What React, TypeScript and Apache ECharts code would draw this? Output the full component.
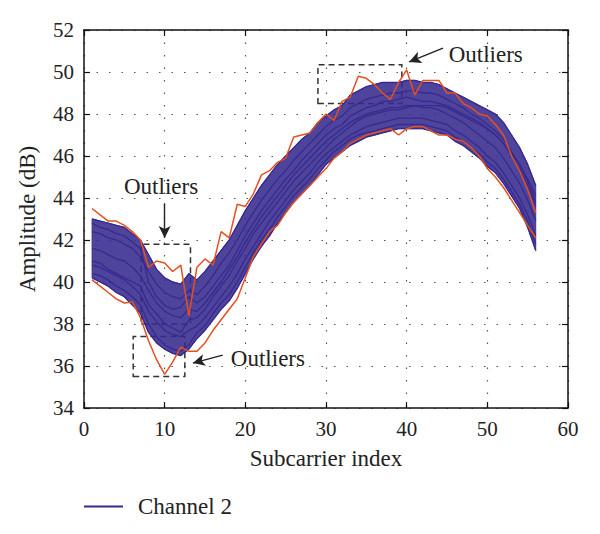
import React, { useEffect, useRef } from 'react';
import * as echarts from 'echarts';

const subcarriers = [1,2,3,4,5,6,7,8,9,10,11,12,13,14,15,16,17,18,19,20,21,22,23,24,25,26,27,28,29,30,31,32,33,34,35,36,37,38,39,40,41,42,43,44,45,46,47,48,49,50,51,52,53,54,55,56];

const xTicks = [0, 10, 20, 30, 40, 50, 60];
const yTicks = [34, 36, 38, 40, 42, 44, 46, 48, 50, 52];

// Upper and lower edges of the Channel 2 bundle
const blueHi = [43.0,42.9,42.8,42.7,42.6,42.3,42.0,41.3,40.6,40.2,40.0,39.9,40.4,40.1,40.5,41.0,41.5,42.0,42.7,43.4,44.0,44.6,45.1,45.6,46.0,46.4,46.8,47.1,47.6,47.9,48.2,48.4,48.9,49.1,49.3,49.4,49.5,49.5,49.5,49.6,49.6,49.5,49.5,49.4,49.2,49.0,48.8,48.6,48.4,48.2,48.0,47.6,47.0,46.4,45.6,44.6];
const blueLo = [40.2,40.0,39.8,39.5,39.3,38.9,38.5,37.6,37.1,36.8,36.6,36.5,36.8,37.3,37.7,38.2,38.7,39.1,39.7,40.4,41.1,41.7,42.2,42.8,43.3,43.8,44.2,44.6,45.1,45.6,45.9,46.2,46.5,46.7,46.9,47.0,47.1,47.2,47.3,47.3,47.3,47.3,47.2,47.1,47.0,46.7,46.5,46.2,45.9,45.5,45.2,44.7,44.1,43.5,42.6,41.5];

// Individual Channel 2 measurements inside the bundle
const blueA = [42.4,42.3,42.1,42.0,41.8,41.6,41.2,40.5,39.9,39.5,39.3,39.2,39.6,39.4,39.8,40.3,40.9,41.4,42.0,42.7,43.3,43.9,44.4,44.9,45.3,45.8,46.2,46.6,47.0,47.4,47.7,47.9,48.3,48.5,48.7,48.8,48.9,49.0,49.0,49.1,49.1,49.0,49.0,48.9,48.7,48.5,48.3,48.0,47.8,47.5,47.2,46.8,46.2,45.6,44.8,43.8];
const blueB = [41.6,41.5,41.3,41.1,41.0,40.7,40.3,39.6,39.0,38.6,38.4,38.3,38.7,38.6,39.0,39.5,40.0,40.6,41.2,41.9,42.5,43.1,43.6,44.1,44.6,45.1,45.5,45.9,46.3,46.7,47.0,47.3,47.6,47.8,48.0,48.1,48.2,48.3,48.3,48.4,48.4,48.3,48.3,48.2,48.0,47.8,47.6,47.3,47.0,46.7,46.4,45.9,45.3,44.7,43.9,42.9];
const blueC = [40.8,40.7,40.5,40.3,40.1,39.8,39.4,38.6,38.1,37.7,37.5,37.4,37.7,37.9,38.3,38.8,39.3,39.8,40.4,41.1,41.7,42.3,42.9,43.4,43.9,44.4,44.8,45.2,45.7,46.1,46.4,46.7,47.0,47.2,47.4,47.5,47.6,47.7,47.8,47.8,47.8,47.8,47.7,47.6,47.5,47.2,47.0,46.7,46.4,46.0,45.7,45.2,44.6,44.0,43.2,42.2];
const blueD = [42.8,42.6,42.5,42.3,42.2,41.9,41.6,40.0,39.3,38.9,38.7,38.8,39.3,39.0,39.3,39.8,40.3,40.8,41.5,42.2,42.8,43.4,43.9,44.4,44.9,45.3,45.8,46.2,46.6,47.0,47.3,47.5,47.9,48.1,48.3,48.4,48.6,48.6,48.7,48.8,48.7,48.6,48.6,48.5,48.4,48.2,48.0,47.8,47.6,47.3,47.0,46.6,46.0,45.4,44.6,43.6];
const blueE = [41.0,40.9,40.6,40.4,40.2,40.0,39.8,38.9,38.5,38.0,37.8,37.6,38.2,38.3,38.7,39.3,39.8,40.3,41.0,41.6,42.3,42.8,43.3,43.8,44.3,44.8,45.2,45.6,46.0,46.4,46.8,47.1,47.4,47.7,47.9,48.0,48.1,48.2,48.2,48.3,48.4,48.4,48.4,48.4,48.3,48.1,47.9,47.7,47.5,47.3,47.0,46.6,46.1,45.6,44.9,44.1];
const blueF = [40.4,40.3,40.1,39.8,39.6,39.3,38.9,38.0,37.4,37.0,36.8,36.7,37.0,37.6,37.9,38.5,39.0,39.4,40.0,40.7,41.4,42.0,42.5,43.1,43.6,44.1,44.5,44.9,45.4,45.8,46.2,46.5,46.8,47.0,47.1,47.2,47.3,47.4,47.5,47.5,47.5,47.5,47.4,47.3,47.2,46.9,46.7,46.4,46.1,45.7,45.4,44.9,44.3,43.7,42.9,41.8];

// Outlier measurements (red)
const redHi = [43.5,43.2,42.9,42.9,42.7,42.4,42.0,40.7,41.0,40.9,40.5,40.8,38.4,40.7,41.1,40.8,42.4,42.1,43.7,43.6,44.2,45.1,45.3,45.7,45.9,46.9,47.0,47.1,47.6,48.0,47.7,48.6,48.8,49.8,49.7,49.4,49.0,48.7,49.5,50.1,48.9,49.6,49.6,49.6,49.0,49.0,48.5,48.3,48.0,47.9,47.5,47.0,46.0,45.3,44.4,43.3];
const redLo = [40.1,39.8,39.5,39.2,39.0,39.05,38.3,37.2,36.3,35.6,36.2,36.9,36.7,36.7,37.1,37.7,38.2,38.7,39.2,40.2,41.2,41.8,42.4,42.7,43.3,43.8,44.2,44.6,45.0,45.4,45.9,46.2,46.6,46.8,47.0,47.1,47.2,47.3,47.0,47.3,47.4,47.4,47.2,47.0,47.0,46.8,46.7,46.4,46.0,45.4,45.0,44.5,43.9,43.3,42.7,42.1];

// Dashed outlier boxes: [xFrom, yFrom, xTo, yTo]
const boxes = [
  [7.1, 38.0, 13.2, 41.8],
  [6.1, 35.5, 12.5, 37.4],
  [29.0, 48.5, 39.4, 50.35],
];
// Arrows: [xFrom, yFrom, xTo, yTo]
const arrows = [
  [10.0, 43.75, 10.0, 42.1],
  [17.2, 36.52, 13.5, 36.14],
  [44.5, 51.14, 40.3, 50.48],
];
// Label centres for "Outliers"
const labelPos = [
  [9.55, 44.57],
  [22.8, 36.38],
  [49.8, 50.81],
];

const BLUE = '#372a8e';
const RED = '#e4501e';
const FONT = '"Liberation Serif", "DejaVu Serif", serif';

const pairs = (ys: number[]) => subcarriers.map((x, i) => [x, ys[i]]);

export default function App() {
  const ref = useRef<HTMLDivElement>(null);
  useEffect(() => {
    if (!ref.current) return;
    const chart = echarts.init(ref.current, undefined, { renderer: 'svg' });
    const blueLine = (name: string, ys: number[]) => ({
      name,
      type: 'line',
      data: pairs(ys),
      symbol: 'none',
      silent: true,
      lineStyle: { color: BLUE, width: 1.3 },
      itemStyle: { color: BLUE },
      z: 3,
    });
    const axisCommon = {
      type: 'value',
      axisLine: { show: true, onZero: false, lineStyle: { color: '#111', width: 1.5 } },
      axisTick: { show: true, inside: true, length: 6, lineStyle: { color: '#111', width: 1.2 } },
    };
    const gridDots = { show: true, lineStyle: { color: '#555', width: 1.2, type: [1.5, 11] } };
    chart.setOption({
      animation: false,
      backgroundColor: '#ffffff',
      grid: { left: 84, right: 32, top: 30, bottom: 126 },
      legend: {
        data: ['Channel 2'],
        left: 84,
        top: 495,
        padding: 0,
        icon: 'rect',
        itemWidth: 39,
        itemHeight: 2,
        textStyle: { fontFamily: FONT, fontSize: 23, color: '#222', padding: [0, 0, 0, 10] },
      },
      xAxis: [
        {
          ...axisCommon,
          min: 0, max: 60, interval: 10,
          position: 'bottom',
          name: 'Subcarrier index',
          nameLocation: 'middle',
          nameGap: 39,
          nameTextStyle: { fontFamily: FONT, fontSize: 23, color: '#222' },
          axisLabel: { fontFamily: FONT, fontSize: 21, color: '#222', margin: 10,
            formatter: (v: number) => (xTicks.includes(v) ? String(v) : '') },
          splitLine: gridDots,
        },
        {
          ...axisCommon,
          min: 0, max: 60, interval: 10,
          position: 'top',
          axisLabel: { show: false },
          splitLine: { show: false },
        },
      ],
      yAxis: [
        {
          ...axisCommon,
          min: 34, max: 52, interval: 2,
          position: 'left',
          name: 'Amplitude (dB)',
          nameLocation: 'middle',
          nameGap: 45,
          nameTextStyle: { fontFamily: FONT, fontSize: 23, color: '#222' },
          axisLabel: { fontFamily: FONT, fontSize: 21, color: '#222', margin: 10,
            formatter: (v: number) => (yTicks.includes(v) ? String(v) : '') },
          splitLine: gridDots,
        },
        {
          ...axisCommon,
          min: 34, max: 52, interval: 2,
          position: 'right',
          axisLabel: { show: false },
          splitLine: { show: false },
        },
      ],
      series: [
        {
          name: 'band',
          type: 'custom',
          silent: true,
          data: [0],
          z: 2,
          renderItem: (_params: any, api: any) => {
            const top = subcarriers.map((x, i) => api.coord([x, blueHi[i]]));
            const bottom = subcarriers.map((x, i) => api.coord([x, blueLo[i]])).reverse();
            return {
              type: 'polygon',
              shape: { points: top.concat(bottom) },
              style: { fill: BLUE, opacity: 0.88, stroke: BLUE, lineWidth: 1 },
            };
          },
        },
        blueLine('Channel 2', blueHi),
        blueLine('Channel 2', blueLo),
        blueLine('Channel 2', blueA),
        blueLine('Channel 2', blueB),
        blueLine('Channel 2', blueC),
        blueLine('Channel 2', blueD),
        blueLine('Channel 2', blueE),
        blueLine('Channel 2', blueF),
        {
          name: 'Outlier high',
          type: 'line',
          data: pairs(redHi),
          symbol: 'none',
          silent: true,
          lineStyle: { color: RED, width: 1.5 },
          z: 5,
        },
        {
          name: 'Outlier low',
          type: 'line',
          data: pairs(redLo),
          symbol: 'none',
          silent: true,
          lineStyle: { color: RED, width: 1.5 },
          z: 5,
          markArea: {
            silent: true,
            itemStyle: { color: 'rgba(0,0,0,0)', borderColor: '#333', borderWidth: 1.5, borderType: [6, 4] },
            data: boxes.map((b) => [{ coord: [b[0], b[1]] }, { coord: [b[2], b[3]] }]),
          },
          markLine: {
            silent: true,
            symbol: ['none', 'arrow'],
            symbolSize: [9, 12],
            label: { show: false },
            lineStyle: { color: '#222', width: 1.4, type: 'solid' },
            data: arrows.map((a) => [{ coord: [a[0], a[1]] }, { coord: [a[2], a[3]] }]),
          },
          markPoint: {
            silent: true,
            symbol: 'circle',
            symbolSize: 1,
            itemStyle: { color: 'rgba(0,0,0,0)' },
            label: { show: true, position: 'inside', formatter: 'Outliers', fontFamily: FONT, fontSize: 23, color: '#222' },
            data: labelPos.map((p) => ({ coord: p })),
          },
        },
      ],
    });
    return () => chart.dispose();
  }, []);
  return <div ref={ref} style={{ position: 'fixed', left: 0, top: 0, width: 600, height: 534 }} />;
}
